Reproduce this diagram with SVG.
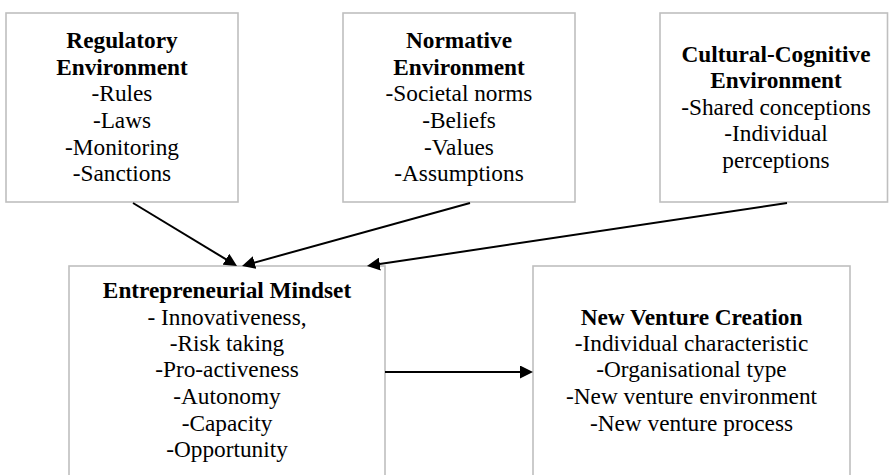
<svg xmlns="http://www.w3.org/2000/svg" width="889" height="475" viewBox="0 0 889 475">
  <style>
    .box { fill: #ffffff; stroke: #bfbfbf; stroke-width: 1.6; }
    .t { font-family: "Liberation Serif", "Times New Roman", serif; font-size: 23.3px; fill: #000000; text-anchor: middle; }
    .b { font-weight: bold; }
    .link { stroke: #000000; stroke-width: 2; fill: none; marker-end: url(#head); }
  </style>
  <defs>
    <marker id="head" markerUnits="userSpaceOnUse" markerWidth="13" markerHeight="13" refX="7" refY="6.5" orient="auto">
      <path d="M0,0 L13,6.5 L0,13 Z" fill="#000000"/>
    </marker>
  </defs>
  <rect width="889" height="475" fill="#ffffff"/>

  <g id="regulatory">
    <rect class="box" x="6" y="13" width="232" height="189"/>
    <text class="t b" x="122" y="48">Regulatory</text>
    <text class="t b" x="122" y="75">Environment</text>
    <text class="t" x="122" y="101">-Rules</text>
    <text class="t" x="122" y="128">-Laws</text>
    <text class="t" x="122" y="155">-Monitoring</text>
    <text class="t" x="122" y="181">-Sanctions</text>
  </g>

  <g id="normative">
    <rect class="box" x="343" y="13" width="232" height="189"/>
    <text class="t b" x="459" y="48">Normative</text>
    <text class="t b" x="459" y="75">Environment</text>
    <text class="t" x="459" y="101">-Societal norms</text>
    <text class="t" x="459" y="128">-Beliefs</text>
    <text class="t" x="459" y="155">-Values</text>
    <text class="t" x="459" y="181">-Assumptions</text>
  </g>

  <g id="cultural-cognitive">
    <rect class="box" x="660" y="13" width="227.5" height="189"/>
    <text class="t b" x="776" y="62">Cultural-Cognitive</text>
    <text class="t b" x="776" y="88">Environment</text>
    <text class="t" x="776" y="115">-Shared conceptions</text>
    <text class="t" x="776" y="141">-Individual</text>
    <text class="t" x="776" y="168">perceptions</text>
  </g>

  <g id="mindset">
    <rect class="box" x="69" y="266" width="316" height="230"/>
    <text class="t b" x="227" y="298">Entrepreneurial Mindset</text>
    <text class="t" x="227" y="325">- Innovativeness,</text>
    <text class="t" x="227" y="351">-Risk taking</text>
    <text class="t" x="227" y="377">-Pro-activeness</text>
    <text class="t" x="227" y="404">-Autonomy</text>
    <text class="t" x="227" y="431">-Capacity</text>
    <text class="t" x="227" y="457">-Opportunity</text>
  </g>

  <g id="venture">
    <rect class="box" x="533" y="266" width="317" height="230"/>
    <text class="t b" x="691.5" y="325">New Venture Creation</text>
    <text class="t" x="691.5" y="351">-Individual characteristic</text>
    <text class="t" x="691.5" y="377">-Organisational type</text>
    <text class="t" x="691.5" y="404">-New venture environment</text>
    <text class="t" x="691.5" y="431">-New venture process</text>
  </g>

  <g id="connectors">
    <line class="link" x1="133" y1="203" x2="231.9" y2="262.9"/>
    <line class="link" x1="470" y1="203" x2="247.8" y2="264.4"/>
    <line class="link" x1="787" y1="203" x2="372.9" y2="265.1"/>
    <line class="link" x1="385" y1="372" x2="527" y2="372"/>
  </g>
</svg>
